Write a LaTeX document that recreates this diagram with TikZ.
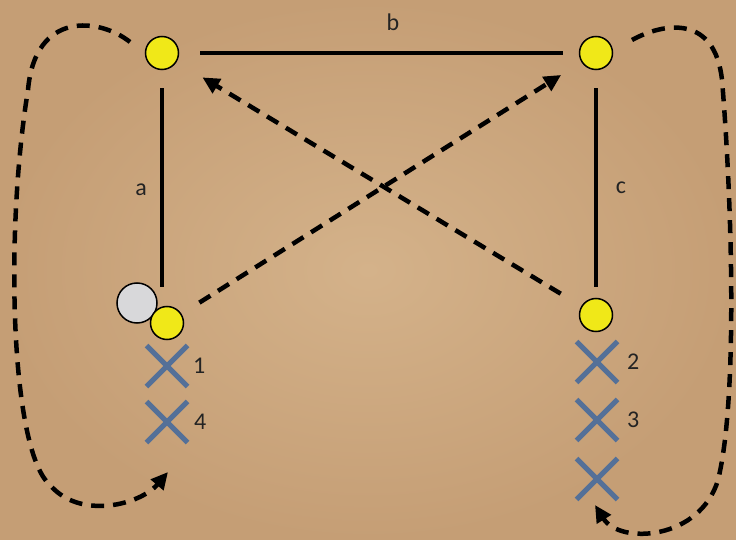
\documentclass[tikz,border=0pt]{standalone}
\usepackage{fontspec}
\setmainfont{Carlito}
\usetikzlibrary{arrows.meta, shapes.misc, positioning, calc}
\definecolor{paper}{RGB}{197,158,117}
\definecolor{paperlite}{RGB}{212,178,138}
\definecolor{dotyellow}{RGB}{240,232,24}
\definecolor{litegray}{RGB}{216,216,218}
\definecolor{crossblue}{RGB}{84,112,152}
\definecolor{inkgray}{RGB}{35,35,35}
\tikzstyle{dot}=[circle, draw, line width=1.5pt, fill=dotyellow, minimum size=33pt, inner sep=0pt]
\tikzstyle{ball}=[circle, draw, line width=1.5pt, fill=litegray, minimum size=40pt, inner sep=0pt]
\tikzstyle{miss}=[cross out, draw=crossblue, line width=5pt, minimum size=36pt, inner sep=0pt]
\tikzstyle{lbl}=[text=inkgray, font=\fontsize{24}{28}\selectfont]
\tikzstyle{edge}=[line width=4.5pt]
\tikzstyle{passline}=[line width=4.5pt, dash pattern=on 13pt off 9pt, -{Triangle[length=17pt, width=16pt]}]

\begin{document}
\begin{tikzpicture}[x=1pt, y=-1pt]
        \shade[inner color=paperlite, outer color=paper] (0,0) rectangle (736,540);
        \useasboundingbox (0,0) rectangle (736,540);
        \node[dot] (tl) at (162,53) {};
        \node[dot] (tr) at (596,53) {};
        \node[dot] (br) at (596,315) {};
        \node[ball] (gr) at (137,303) {};
        \node[dot] (bl) at (167,323) {};
        \draw[edge, shorten <=18pt, shorten >=19pt] (tl.south) -- (tl.south |- bl.north);
        \draw[edge, shorten <=21pt, shorten >=16pt] (tl.east) -- (tr.west);
        \draw[edge, shorten <=18pt, shorten >=11pt] (tr.south) -- (br.north);
        \node[lbl] (la) at (141,190) {a};
        \node[lbl] (lb) at (393,22) {b};
        \node[lbl] (lc) at (621,188) {c};
        \draw[passline, shorten <=21pt, shorten >=24pt] (bl) -- (tr);
        \draw[passline, shorten <=24pt, shorten >=30pt] (br) -- (tl);
        \node[miss] (x1) at (167,366) {};
        \node[miss] (x4) at (167,422) {};
        \node[miss] (x2) at (597,362) {};
        \node[miss] (x3) at (597,420) {};
        \node[miss] (x5) at (597,479) {};
        \node[lbl, right=2pt of x1] (n1) {1};
        \node[lbl, right=3pt of x4] (n4) {4};
        \node[lbl, right=6pt of x2] (n2) {2};
        \node[lbl, right=6pt of x3] (n3) {3};
        \coordinate (ls) at (130,42);
        \coordinate (le) at (168,472);
        \coordinate (rs) at (632,40);
        \coordinate (re) at (595,505);
        \draw[passline] (ls) .. controls (100,18) and (35,10) .. (28,90) .. controls (5,230) and (10,450) .. (50,485) .. controls (80,520) and (140,505) .. (le);
        \draw[passline] (rs) .. controls (665,22) and (715,15) .. (722,80) .. controls (732,200) and (738,400) .. (718,480) .. controls (700,540) and (620,545) .. (re);
\end{tikzpicture}
\end{document}
